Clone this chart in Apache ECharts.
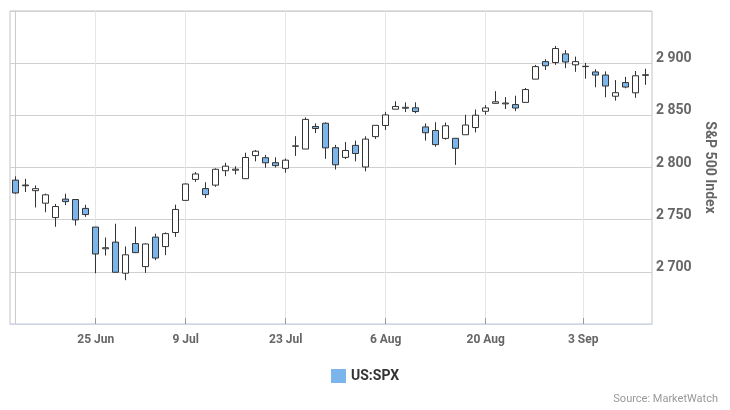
<!DOCTYPE html>
<html>
<head>
<meta charset="utf-8">
<script src="https://cdn.jsdelivr.net/npm/echarts@6/dist/echarts.min.js"></script>
<style>html,body{margin:0;padding:0;background:#fff}#c{width:730px;height:410px}</style>
</head>
<body>
<div id="c"></div>
<script>
const dates = [
  '2018-06-13','2018-06-14','2018-06-15','2018-06-18','2018-06-19','2018-06-20','2018-06-21','2018-06-22',
  '2018-06-25','2018-06-26','2018-06-27','2018-06-28','2018-06-29',
  '2018-07-02','2018-07-03','2018-07-05','2018-07-06','2018-07-09','2018-07-10','2018-07-11','2018-07-12','2018-07-13',
  '2018-07-16','2018-07-17','2018-07-18','2018-07-19','2018-07-20','2018-07-23','2018-07-24','2018-07-25','2018-07-26','2018-07-27',
  '2018-07-30','2018-07-31','2018-08-01','2018-08-02','2018-08-03','2018-08-06','2018-08-07','2018-08-08','2018-08-09','2018-08-10',
  '2018-08-13','2018-08-14','2018-08-15','2018-08-16','2018-08-17','2018-08-20','2018-08-21','2018-08-22','2018-08-23','2018-08-24',
  '2018-08-27','2018-08-28','2018-08-29','2018-08-30','2018-08-31','2018-09-04','2018-09-05','2018-09-06','2018-09-07',
  '2018-09-10','2018-09-11','2018-09-12'
];
const openVals = [
  2787.9,2783.2,2777.8,2765.8,2752.0,2769.7,2769.3,2760.8,
  2742.9,2722.1,2728.5,2698.7,2727.1,
  2705.0,2733.3,2724.2,2737.7,2768.5,2788.6,2779.8,2783.1,2796.9,
  2797.4,2789.3,2811.4,2809.4,2804.6,2799.2,2820.7,2817.7,2839.3,2842.4,
  2819.0,2809.7,2821.2,2800.5,2829.6,2840.3,2855.9,2856.8,2857.2,2838.9,
  2835.5,2827.9,2828.0,2831.4,2838.3,2853.9,2861.5,2861.0,2860.3,2862.4,
  2884.7,2901.5,2900.6,2908.9,2898.4,2897.0,2891.6,2888.6,2868.3,
  2881.4,2871.6,2888.3
];
const closeVals = [
  2775.6,2782.5,2779.7,2773.8,2762.6,2767.3,2749.8,2754.9,
  2717.1,2723.1,2699.6,2716.3,2718.4,
  2726.7,2713.2,2736.6,2759.8,2784.2,2793.8,2774.0,2798.3,2801.3,
  2798.4,2809.6,2815.6,2804.5,2801.8,2807.0,2820.4,2846.1,2837.4,2818.8,
  2802.6,2816.3,2813.4,2827.2,2840.4,2850.4,2858.5,2857.7,2853.6,2833.3,
  2821.9,2840.0,2818.4,2840.7,2850.1,2857.1,2863.0,2861.8,2857.0,2874.7,
  2896.7,2897.5,2914.0,2901.1,2901.5,2896.7,2888.6,2878.1,2871.7,
  2877.1,2887.9,2888.9
];
const lowVals = [
  2774.7,2776.5,2761.7,2757.1,2743.2,2763.9,2744.4,2752.7,
  2698.7,2715.6,2699.4,2692.0,2718.0,
  2699.0,2711.2,2716.0,2733.5,2768.5,2786.2,2770.8,2781.5,2791.7,
  2793.4,2789.2,2805.9,2799.8,2800.0,2795.1,2811.1,2817.7,2833.0,2808.3,
  2798.1,2808.1,2805.9,2796.3,2827.4,2836.0,2855.9,2853.1,2852.0,2825.8,
  2819.9,2826.6,2802.5,2831.4,2833.7,2850.6,2861.3,2856.1,2854.0,2862.4,
  2884.7,2893.5,2898.4,2895.2,2891.7,2885.1,2876.9,2867.3,2864.1,
  2875.9,2866.8,2879.2
];
const highVals = [
  2791.5,2789.1,2782.8,2775.0,2765.1,2774.9,2769.3,2764.2,
  2742.9,2732.9,2746.1,2724.3,2743.3,
  2727.3,2736.6,2737.8,2764.4,2784.7,2795.6,2785.9,2799.2,2804.5,
  2801.2,2814.2,2816.8,2812.1,2809.7,2808.6,2830.0,2848.0,2842.2,2843.2,
  2821.7,2824.5,2825.8,2829.9,2840.4,2853.3,2863.4,2862.4,2862.5,2842.2,
  2843.4,2843.1,2828.0,2850.5,2855.6,2859.8,2873.2,2867.5,2868.8,2876.2,
  2898.3,2903.8,2916.5,2912.5,2906.3,2900.2,2894.2,2892.1,2883.8,
  2886.9,2892.5,2894.7
];
const tickValues = [8, 17, 27, 37, 47, 56.75];
const tickLabels = ['25 Jun', '9 Jul', '23 Jul', '6 Aug', '20 Aug', '3 Sep'];
const seriesName = 'US:SPX';
const yAxisName = 'S&P 500 Index';
const sourceText = 'Source: MarketWatch';

const FONT = 'Roboto, "Liberation Sans", sans-serif';
const candleData = dates.map((d, i) => [i, openVals[i], closeVals[i], lowVals[i], highVals[i]]);

const chart = echarts.init(document.getElementById('c'), null, {renderer: 'canvas'});
chart.setOption({
  animation: false,
  backgroundColor: '#ffffff',
  textStyle: {fontFamily: FONT},
  grid: {left: 10, right: 78, top: 11, bottom: 86, show: true, borderColor: '#c4c4c4', borderWidth: 1, backgroundColor: 'transparent'},
  legend: {
    left: 331, top: 369, padding: 0, itemWidth: 15, itemHeight: 14, itemGap: 8,
    textStyle: {fontFamily: FONT, fontSize: 14, fontWeight: 'bold', color: '#333'},
    data: [{name: seriesName, icon: 'rect', itemStyle: {color: '#7cb5ec', borderWidth: 0}}]
  },
  graphic: [{
    type: 'text', right: 12, top: 394,
    style: {text: sourceText, font: '11px ' + FONT, fill: '#999'}
  }],
  xAxis: {
    type: 'value', min: -0.57, max: 63.63,
    axisLine: {show: true, onZero: false, lineStyle: {color: '#ccd6eb'}},
    axisTick: {show: true, inside: true, length: 6, lineStyle: {color: '#999'}, customValues: tickValues},
    axisLabel: {
      customValues: tickValues, margin: 10,
      fontFamily: FONT, fontSize: 12, fontWeight: 'bold', color: '#666',
      formatter: v => { const k = tickValues.findIndex(t => Math.abs(t - v) < 0.01); return k >= 0 ? tickLabels[k] : ''; }
    },
    splitLine: {show: true, lineStyle: {color: '#e6e6e6'}}
  },
  yAxis: {
    type: 'value', position: 'right', min: 2650, max: 2950, interval: 50,
    axisLine: {show: true, lineStyle: {color: '#cccccc'}},
    axisTick: {show: false},
    axisLabel: {
      margin: 4, fontFamily: FONT, fontSize: 14, fontWeight: 'bold', color: '#666',
      verticalAlign: 'bottom', lineHeight: 9,
      formatter: v => (v <= 2650 || v >= 2950) ? '' : String(v).replace(/\B(?=(\d{3})+(?!\d))/g, ' ')
    },
    splitLine: {show: true, lineStyle: {color: '#d0d0d0'}},
    name: yAxisName, nameLocation: 'middle', nameRotate: -90, nameGap: 47,
    nameTextStyle: {fontFamily: FONT, fontSize: 14, fontWeight: 'bold', color: '#666'}
  },
  series: [{
    name: seriesName,
    type: 'candlestick',
    barWidth: 7,
    encode: {x: 0, y: [1, 2, 3, 4]},
    itemStyle: {color: '#ffffff', color0: '#7cb5ec', borderColor: '#333', borderColor0: '#333', borderWidth: 1},
    data: candleData
  }]
});
</script>
</body>
</html>
